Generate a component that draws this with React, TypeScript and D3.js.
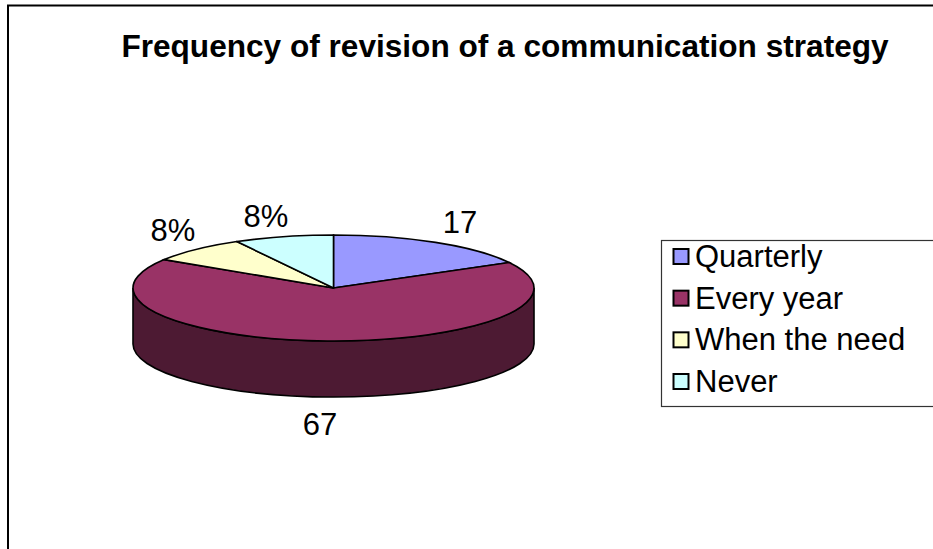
import React from "react";
import * as d3 from "d3";

const categories = ["Quarterly", "Every year", "When the need", "Never"];
const values = [17, 67, 8, 8];
const sliceLabels = ["17", "67", "8%", "8%"];
const colors = ["#9999ff", "#993366", "#ffffcc", "#ccffff"];
const sideColor = "#4d1a33";
const titleText = "Frequency of revision of a communication strategy";

const W = 933, H = 549;
const cx = 333.5, cy = 288, rx = 200.5, ry = 53, depth = 56;

export default function App() {
  const pie = d3.pie<number>().sort(null).value((d) => d);
  const arcs = pie(values);
  const arc = d3.arc<any>().innerRadius(0).outerRadius(rx);
  const k = ry / rx;
  const side = `M${cx - rx},${cy}L${cx - rx},${cy + depth}A${rx},${ry} 0 0 0 ${cx + rx},${cy + depth}L${cx + rx},${cy}A${rx},${ry} 0 0 1 ${cx - rx},${cy}Z`;
  const labelPos = [
    [460, 233],
    [320, 435],
    [173, 241],
    [266, 227],
  ];
  const legendY = d3.scalePoint<string>().domain(categories).range([267, 392]);
  return (
    <svg
      width={W}
      height={H}
      viewBox={`0 0 ${W} ${H}`}
      style={{ position: "absolute", left: 0, top: 0, display: "block", background: "#fff" }}
      fontFamily="'Liberation Sans', Arial, sans-serif"
    >
      <rect x={8} y={5.5} width={W + 20} height={H + 20} fill="#fff" stroke="#000" strokeWidth={2} />
      <text x={505} y={57} textAnchor="middle" fontSize={31.6} fontWeight="bold" fill="#000">
        {titleText}
      </text>
      <path d={side} fill={sideColor} stroke="#000" strokeWidth={1.6} />
      <g transform={`translate(${cx},${cy}) scale(1,${k})`}>
        {arcs.map((a, i) => (
          <path
            key={categories[i]}
            d={arc(a) as string}
            fill={colors[i]}
            stroke="#000"
            strokeWidth={1.6}
            vectorEffect="non-scaling-stroke"
          />
        ))}
      </g>
      {sliceLabels.map((t, i) => (
        <text key={i} x={labelPos[i][0]} y={labelPos[i][1]} textAnchor="middle" fontSize={31} fill="#000">
          {t}
        </text>
      ))}
      <rect x={661.5} y={240.5} width={W} height={166} fill="#fff" stroke="#333" strokeWidth={1.2} />
      {categories.map((c, i) => {
        const y = legendY(c) as number;
        return (
          <g key={c}>
            <rect x={673.5} y={y - 18} width={15} height={15} fill={colors[i]} stroke="#000" strokeWidth={2} />
            <text x={695} y={y} fontSize={31} fill="#000">
              {c}
            </text>
          </g>
        );
      })}
    </svg>
  );
}
